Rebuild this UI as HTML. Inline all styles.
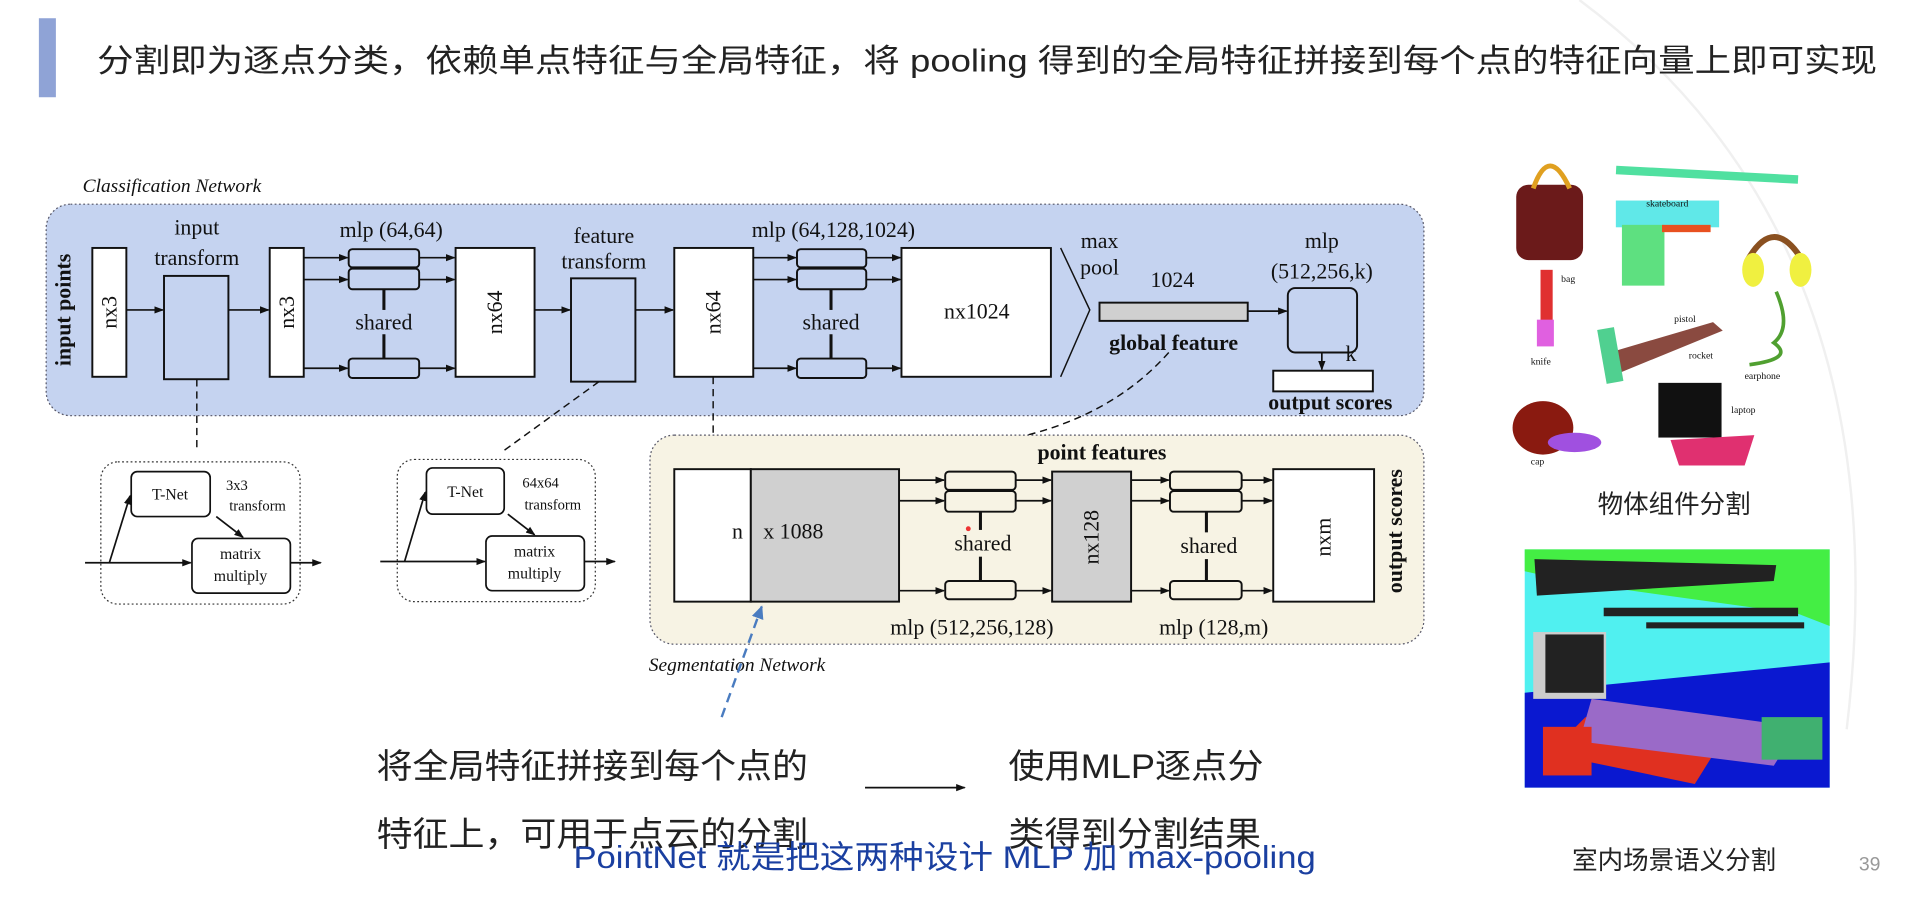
<!DOCTYPE html>
<html><head><meta charset="utf-8"><style>
html,body{margin:0;padding:0;background:#fff;}
svg{display:block}
.s{font-family:"Liberation Serif",serif;fill:#111}
.c{font-family:"Liberation Sans","Noto Sans CJK SC",sans-serif}
</style></head><body>
<svg width="1905" height="897" viewBox="0 0 1568 738" preserveAspectRatio="none" xmlns="http://www.w3.org/2000/svg">
<defs>
<marker id="a" markerWidth="8" markerHeight="8" refX="7" refY="4" orient="auto" markerUnits="userSpaceOnUse"><path d="M0,1 L8,4 L0,7 z" fill="#111"/></marker>
<marker id="b" markerWidth="12" markerHeight="12" refX="10" refY="6" orient="auto" markerUnits="userSpaceOnUse"><path d="M0,1 L11,6 L0,11 z" fill="#4a7cc0"/></marker>
</defs>
<rect width="1568" height="738" fill="#fff"/>
<path d="M1300 0 Q1568 200 1520 600" stroke="#f0f0f0" stroke-width="2" fill="none"/>
<rect x="32" y="15" width="14" height="65" fill="#8fa3d6"/>
<text x="80" y="59" class="c" font-size="26" fill="#222" textLength="1465" lengthAdjust="spacingAndGlyphs">分割即为逐点分类，依赖单点特征与全局特征，将 pooling 得到的全局特征拼接到每个点的特征向量上即可实现</text>

<text x="68" y="158" class="s" font-size="16" font-style="italic">Classification Network</text>
<rect x="38" y="168" width="1134" height="174" rx="20" fill="#c5d3f0" stroke="#556" stroke-width="1" stroke-dasharray="1.5,2"/>
<g stroke="#111" stroke-width="1.6" fill="#fff">
<rect x="76" y="204" width="28" height="106"/>
<rect x="135" y="227" width="53" height="85" fill="#c5d3f0"/>
<rect x="222" y="204" width="28" height="106"/>
<rect x="287" y="205" width="58" height="15" rx="3" fill="#c5d3f0"/>
<rect x="287" y="221" width="58" height="17" rx="3" fill="#c5d3f0"/>
<rect x="287" y="295" width="58" height="16" rx="3" fill="#c5d3f0"/>
<rect x="375" y="204" width="65" height="106"/>
<rect x="470" y="229" width="53" height="85" fill="#c5d3f0"/>
<rect x="555" y="204" width="65" height="106"/>
<rect x="656" y="205" width="57" height="15" rx="3" fill="#c5d3f0"/>
<rect x="656" y="221" width="57" height="17" rx="3" fill="#c5d3f0"/>
<rect x="656" y="295" width="57" height="16" rx="3" fill="#c5d3f0"/>
<rect x="742" y="204" width="123" height="106"/>
<rect x="905" y="249" width="122" height="15" fill="#d0d0d0"/>
<rect x="1060" y="237" width="57" height="53" rx="6" fill="#c5d3f0"/>
<rect x="1048" y="305" width="82" height="17"/>
</g>
<g stroke="#111" stroke-width="2.5"><line x1="316" y1="238" x2="316" y2="255"/><line x1="316" y1="275" x2="316" y2="295"/><line x1="684" y1="238" x2="684" y2="255"/><line x1="684" y1="275" x2="684" y2="295"/></g>
<path d="M873 204 L897 255 L873 310" stroke="#111" fill="none" stroke-width="1.2"/>
<g stroke="#111" stroke-width="1.4" marker-end="url(#a)">
<line x1="104" y1="255" x2="134" y2="255"/><line x1="188" y1="255" x2="221" y2="255"/>
<line x1="250" y1="212" x2="286" y2="212"/><line x1="250" y1="230" x2="286" y2="230"/><line x1="250" y1="303" x2="286" y2="303"/>
<line x1="345" y1="212" x2="374" y2="212"/><line x1="345" y1="230" x2="374" y2="230"/><line x1="345" y1="303" x2="374" y2="303"/>
<line x1="440" y1="255" x2="469" y2="255"/><line x1="523" y1="255" x2="554" y2="255"/>
<line x1="620" y1="212" x2="655" y2="212"/><line x1="620" y1="230" x2="655" y2="230"/><line x1="620" y1="303" x2="655" y2="303"/>
<line x1="713" y1="212" x2="741" y2="212"/><line x1="713" y1="230" x2="741" y2="230"/><line x1="713" y1="303" x2="741" y2="303"/>
<line x1="1027" y1="256" x2="1059" y2="256"/><line x1="1088" y1="290" x2="1088" y2="304"/>
</g>
<g class="s" font-size="18" text-anchor="middle">
<text x="162" y="193">input</text><text x="162" y="218">transform</text>
<text x="322" y="195">mlp (64,64)</text><text x="316" y="271">shared</text>
<text x="497" y="200">feature</text><text x="497" y="221">transform</text>
<text x="686" y="195">mlp (64,128,1024)</text><text x="684" y="271">shared</text>
<text x="804" y="262">nx1024</text>
<text x="905" y="204">max</text><text x="905" y="226">pool</text>
<text x="965" y="236">1024</text>
<text x="966" y="288" font-weight="bold">global feature</text>
<text x="1088" y="204">mlp</text><text x="1088" y="229">(512,256,k)</text>
<text x="1112" y="297">k</text>
<text x="1095" y="337" font-weight="bold">output scores</text>
</g>
<g class="s" font-size="18" text-anchor="middle">
<text transform="translate(96,257) rotate(-90)">nx3</text>
<text transform="translate(242,257) rotate(-90)">nx3</text>
<text transform="translate(413,257) rotate(-90)">nx64</text>
<text transform="translate(593,257) rotate(-90)">nx64</text>
<text transform="translate(58,255) rotate(-90)" font-weight="bold">input points</text>
</g>

<g stroke="#333" stroke-width="1" fill="#fff" stroke-dasharray="1.5,2"><rect x="83" y="380" width="164" height="117" rx="14"/><rect x="327" y="378" width="163" height="117" rx="14"/></g>
<g stroke="#111" stroke-width="1.4" fill="#fff">
<rect x="108" y="388" width="65" height="37" rx="5"/><rect x="158" y="443" width="81" height="45" rx="5"/>
<rect x="351" y="385" width="64" height="38" rx="5"/><rect x="400" y="441" width="81" height="45" rx="5"/>
</g>
<g stroke="#111" stroke-width="1.4" fill="none" marker-end="url(#a)">
<line x1="70" y1="463" x2="157" y2="463"/><line x1="239" y1="463" x2="264" y2="463"/>
<line x1="90" y1="463" x2="107" y2="408"/><line x1="178" y1="425" x2="200" y2="442"/>
<line x1="313" y1="462" x2="399" y2="462"/><line x1="481" y1="462" x2="506" y2="462"/>
<line x1="333" y1="462" x2="350" y2="405"/><line x1="418" y1="423" x2="440" y2="440"/>
</g>
<g class="s" font-size="13" text-anchor="middle">
<text x="140" y="411">T-Net</text><text x="383" y="409">T-Net</text>
<text x="198" y="460">matrix</text><text x="198" y="478">multiply</text>
<text x="440" y="458">matrix</text><text x="440" y="476">multiply</text>
<text x="195" y="403" font-size="12">3x3</text><text x="212" y="420" font-size="12">transform</text>
<text x="445" y="401" font-size="12">64x64</text><text x="455" y="419" font-size="12">transform</text>
</g>
<g stroke="#111" stroke-width="1.2" stroke-dasharray="6,4" fill="none">
<line x1="162" y1="312" x2="162" y2="372"/><line x1="493" y1="314" x2="413" y2="372"/>
<line x1="587" y1="310" x2="587" y2="378" marker-end="url(#a)"/>
<path d="M962 290 Q900 360 780 368 Q710 372 683 384" marker-end="url(#a)"/>
</g>

<rect x="535" y="358" width="637" height="172" rx="20" fill="#f7f3e4" stroke="#556" stroke-width="1" stroke-dasharray="1.5,2"/>
<g stroke="#111" stroke-width="1.6" fill="#fff">
<rect x="555" y="386" width="63" height="109"/><rect x="618" y="386" width="122" height="109" fill="#d0d0d0"/>
<rect x="778" y="388" width="58" height="15" rx="3" fill="#f7f3e4"/><rect x="778" y="404" width="58" height="17" rx="3" fill="#f7f3e4"/><rect x="778" y="478" width="58" height="15" rx="3" fill="#f7f3e4"/>
<rect x="866" y="388" width="65" height="107" fill="#d0d0d0"/>
<rect x="963" y="388" width="59" height="15" rx="3" fill="#f7f3e4"/><rect x="963" y="404" width="59" height="17" rx="3" fill="#f7f3e4"/><rect x="963" y="478" width="59" height="15" rx="3" fill="#f7f3e4"/>
<rect x="1048" y="386" width="83" height="109"/>
</g>
<g stroke="#111" stroke-width="2.5"><line x1="807" y1="421" x2="807" y2="436"/><line x1="807" y1="458" x2="807" y2="478"/><line x1="993" y1="421" x2="993" y2="438"/><line x1="993" y1="460" x2="993" y2="478"/></g>
<g stroke="#111" stroke-width="1.4" marker-end="url(#a)">
<line x1="740" y1="395" x2="777" y2="395"/><line x1="740" y1="412" x2="777" y2="412"/><line x1="740" y1="486" x2="777" y2="486"/>
<line x1="836" y1="395" x2="865" y2="395"/><line x1="836" y1="412" x2="865" y2="412"/><line x1="836" y1="486" x2="865" y2="486"/>
<line x1="931" y1="395" x2="962" y2="395"/><line x1="931" y1="412" x2="962" y2="412"/><line x1="931" y1="486" x2="962" y2="486"/>
<line x1="1022" y1="395" x2="1047" y2="395"/><line x1="1022" y1="412" x2="1047" y2="412"/><line x1="1022" y1="486" x2="1047" y2="486"/>
</g>
<circle cx="797" cy="435" r="2" fill="#e33"/>
<g class="s" font-size="18" text-anchor="middle">
<text x="907" y="378" font-weight="bold">point features</text>
<text x="607" y="443">n</text><text x="653" y="443">x 1088</text>
<text x="809" y="453">shared</text><text x="995" y="455">shared</text>
<text x="800" y="522">mlp (512,256,128)</text><text x="999" y="522">mlp (128,m)</text>
<text transform="translate(904,442) rotate(-90)">nx128</text>
<text transform="translate(1095,442) rotate(-90)">nxm</text>
<text transform="translate(1154,437) rotate(-90)" font-weight="bold">output scores</text>
</g>
<text x="534" y="552" class="s" font-size="16" font-style="italic">Segmentation Network</text>
<line x1="594" y1="590" x2="627" y2="499" stroke="#4a7cc0" stroke-width="2" stroke-dasharray="8,5" marker-end="url(#b)"/>

<g class="c" font-size="28" fill="#222">
<text x="310" y="640" textLength="355" lengthAdjust="spacingAndGlyphs">将全局特征拼接到每个点的</text>
<text x="310" y="696" textLength="355" lengthAdjust="spacingAndGlyphs">特征上，可用于点云的分割</text>
<text x="830" y="640" textLength="210" lengthAdjust="spacingAndGlyphs">使用MLP逐点分</text>
<text x="830" y="696" textLength="208" lengthAdjust="spacingAndGlyphs">类得到分割结果</text>
</g>
<line x1="712" y1="648" x2="794" y2="648" stroke="#111" stroke-width="1.5" marker-end="url(#a)"/>
<text x="472" y="714" class="c" font-size="26" fill="#1a3fa0" textLength="611" lengthAdjust="spacingAndGlyphs">PointNet 就是把这两种设计 MLP 加 max-pooling</text>

<g>
<rect x="1248" y="152" width="55" height="62" rx="10" fill="#6b1a1a"/>
<path d="M1262 155 Q1275 118 1292 155" stroke="#e0a020" stroke-width="4" fill="none"/>
<rect x="1330" y="140" width="150" height="7" fill="#50e0a0" transform="rotate(3 1400 145)"/>
<rect x="1330" y="165" width="85" height="22" fill="#60e8e8"/>
<rect x="1335" y="185" width="35" height="50" fill="#5ee080"/>
<rect x="1368" y="185" width="40" height="6" fill="#e85020"/>
<path d="M1438 215 Q1460 175 1484 215" stroke="#8a5020" stroke-width="5" fill="none"/>
<ellipse cx="1443" cy="222" rx="9" ry="14" fill="#f0f040"/><ellipse cx="1482" cy="222" rx="9" ry="14" fill="#f0f040"/>
<path d="M1462 240 Q1475 270 1460 282 Q1478 295 1440 300" stroke="#50a030" stroke-width="3" fill="none"/>
<rect x="1268" y="222" width="10" height="44" fill="#e03030"/><rect x="1265" y="263" width="14" height="22" fill="#e060e0"/>
<path d="M1325 290 L1410 265 L1418 272 L1330 308 z" fill="#8a4a40"/>
<rect x="1318" y="270" width="14" height="45" fill="#50d090" transform="rotate(-10 1325 290)"/>
<ellipse cx="1270" cy="352" rx="25" ry="22" fill="#8a1a10"/><ellipse cx="1296" cy="364" rx="22" ry="8" fill="#a050e0"/>
<rect x="1365" y="315" width="52" height="45" fill="#111"/><path d="M1375 362 L1444 358 L1436 383 L1382 383 z" fill="#e03070"/>
</g>
<g class="s" font-size="8" fill="#333"><text x="1355" y="170">skateboard</text><text x="1285" y="232">bag</text><text x="1378" y="265">pistol</text><text x="1436" y="312">earphone</text><text x="1260" y="300">knife</text><text x="1390" y="295">rocket</text><text x="1425" y="340">laptop</text><text x="1260" y="382">cap</text></g>
<text x="1378" y="422" class="c" font-size="21" fill="#222" text-anchor="middle">物体组件分割</text>

<rect x="1255" y="452" width="251" height="196" fill="#50f0f0"/>
<path d="M1255 452 L1506 452 L1506 515 L1480 505 L1300 480 L1255 470 z" fill="#44ee44"/>
<path d="M1255 570 L1506 545 L1506 648 L1255 648 z" fill="#0a18d0"/>
<path d="M1263 460 L1462 465 L1460 478 L1265 490 z" fill="#222"/>
<rect x="1320" y="500" width="160" height="7" fill="#222"/><rect x="1355" y="512" width="130" height="5" fill="#222"/>
<rect x="1262" y="520" width="60" height="55" fill="#ccc"/><rect x="1272" y="522" width="48" height="48" fill="#222"/>
<path d="M1305 590 L1420 605 L1395 645 L1275 620 z" fill="#e03020"/>
<path d="M1310 575 L1480 598 L1460 630 L1300 610 z" fill="#9a6ac8"/>
<rect x="1450" y="590" width="50" height="35" fill="#40b070"/>
<rect x="1270" y="598" width="40" height="40" fill="#e03020"/>
<text x="1378" y="715" class="c" font-size="21" fill="#222" text-anchor="middle">室内场景语义分割</text>
<text x="1530" y="716" class="c" font-size="16" fill="#999">39</text>
</svg>
</body></html>
